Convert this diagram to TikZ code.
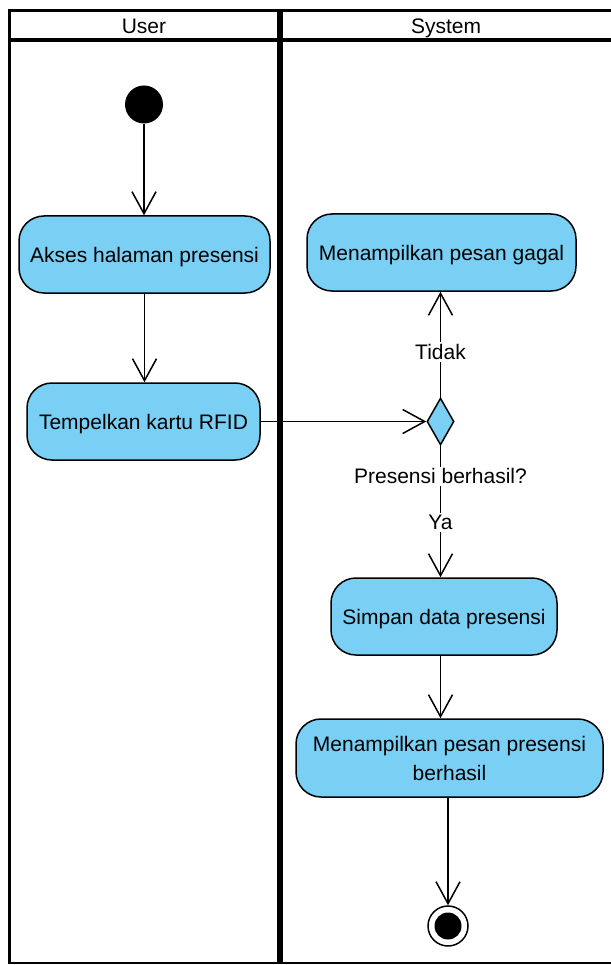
\documentclass[tikz,border=0pt]{standalone}
\usepackage{fontspec}
\setmainfont{Liberation Sans}
\usetikzlibrary{arrows.meta,shapes.geometric}
\definecolor{actfill}{RGB}{122,207,244}
\tikzset{
  act/.style={draw=black, line width=1.5pt, fill=actfill, rounded corners=25pt,
    inner sep=0pt, minimum height=77pt, align=center, text depth=0pt,
    font=\fontsize{21}{29}\selectfont},
  decision/.style={draw=black, line width=1.5pt, fill=actfill, diamond,
    inner sep=0pt, minimum width=27pt, minimum height=47pt},
  arr/.style={line width=1.5pt, -{Straight Barb[length=22pt,width=24pt,line width=1.5pt]}},
  lbl/.style={fill=white, inner sep=2pt, font=\fontsize{21}{25}\selectfont},
  lanetitle/.style={font=\fontsize{21}{25}\selectfont, inner sep=0pt, anchor=base},
  laneline/.style={draw=black}
}
\begin{document}
\begin{tikzpicture}[x=1pt,y=-1pt]
\useasboundingbox (0,0) rectangle (610,965);
% swimlanes
\draw[laneline, line width=3pt] (8,11) -- (615,11);
\draw[laneline, line width=4pt] (8,40) -- (615,40);
\draw[laneline, line width=3pt] (9.5,9.5) -- (9.5,964);
\draw[laneline, line width=5.5pt] (280,9.5) -- (280,964);
\draw[laneline, line width=2pt] (8,963) -- (615,963);
\node[lanetitle] (tuser) at (144,33.5) {User};
\node[lanetitle] (tsys) at (446,33.5) {System};
% nodes
\node[circle, fill=black, inner sep=0pt, minimum size=38pt] (init) at (144,104.5) {};
\node[act, minimum width=251pt] (akses) at (144.5,254.5) {Akses halaman presensi};
\node[act, minimum width=233pt] (tempel) at (143.5,421.5) {Tempelkan kartu RFID};
\node[act, minimum width=269pt] (gagal) at (441.5,252.5) {Menampilkan pesan gagal};
\node[decision] (dec) at (440.5,421.5) {};
\node[act, minimum width=226pt] (simpan) at (444,616.5) {Simpan data presensi};
\node[act, minimum width=307pt, minimum height=78pt] (berhasil) at (449.5,758) {Menampilkan pesan presensi\\berhasil};
\node[circle, draw=black, line width=1.5pt, fill=white, inner sep=0pt, minimum size=40pt] (final) at (448,926) {};
\node[circle, fill=black, inner sep=0pt, minimum size=27pt] (finalin) at (final.center) {};
% connectors
\draw[arr] (init.south) -- (init.south |- akses.north);
\draw[arr] (akses.south) -- (akses.south |- tempel.north);
\draw[arr] (tempel.east) -- (dec.west);
\draw[arr] (dec.north) -- (dec.north |- gagal.south) node[lbl, pos=0.43] {Tidak};
\draw[arr] (dec.south) -- (dec.south |- simpan.north)
   node[lbl, pos=0.233] {Presensi berhasil?}
   node[lbl, pos=0.586] {Ya};
\draw[arr] (simpan.south -| dec.south) -- (dec.south |- berhasil.north);
\draw[arr] (final |- berhasil.south) -- (final.north);
\end{tikzpicture}
\end{document}
